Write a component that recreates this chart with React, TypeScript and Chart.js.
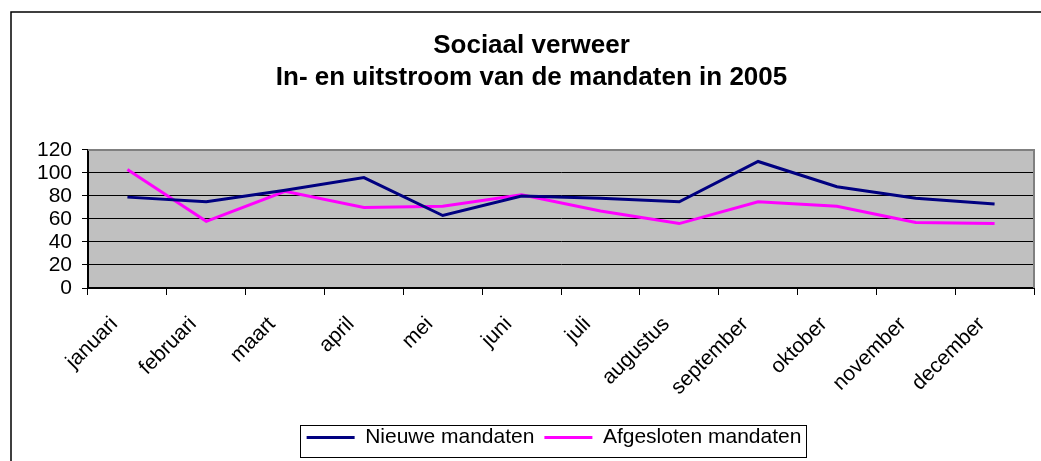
import React, { useEffect, useRef } from 'react';
import { Chart, registerables } from 'chart.js';

Chart.register(...registerables);

const months = [
  'januari', 'februari', 'maart', 'april', 'mei', 'juni',
  'juli', 'augustus', 'september', 'oktober', 'november', 'december',
];
const nieuweMandaten = [79, 75, 85, 96, 63, 80, 78, 75, 110, 88, 78, 73];
const afgeslotenMandaten = [103, 58, 84, 70, 71, 81, 67, 56, 75, 71, 57, 56];
const seriesLabels = ['Nieuwe mandaten', 'Afgesloten mandaten'];
const titleLines = ['Sociaal verweer', 'In- en uitstroom van de mandaten in 2005'];
const yMin = 0;
const yMax = 120;
const yStep = 20;

const FONT = "'Liberation Sans', Arial, sans-serif";

const framePlugin = {
  id: 'frame',
  afterLayout(chart: any) {
    const lg = chart.legend;
    if (lg) {
      lg.left -= 7;
      lg.right -= 7;
      lg.top -= 3;
      lg.bottom -= 3;
    }
  },
  beforeDraw(chart: any) {
    const { ctx, chartArea, width, height } = chart;
    ctx.save();
    ctx.fillStyle = '#ffffff';
    ctx.fillRect(0, 0, width, height);
    // outer chart border (left + top visible)
    ctx.strokeStyle = '#000000';
    ctx.lineWidth = 1.5;
    ctx.beginPath();
    ctx.moveTo(11, height + 2);
    ctx.lineTo(11, 12);
    ctx.lineTo(width + 2, 12);
    ctx.stroke();
    // plot background
    ctx.fillStyle = '#c0c0c0';
    ctx.fillRect(chartArea.left, chartArea.top, chartArea.right - chartArea.left, chartArea.bottom - chartArea.top);
    ctx.restore();
  },
  afterDraw(chart: any) {
    const { ctx, chartArea } = chart;
    ctx.save();
    // plot area border top & right (gray)
    ctx.strokeStyle = '#808080';
    ctx.lineWidth = 2;
    ctx.beginPath();
    ctx.moveTo(chartArea.left, chartArea.top);
    ctx.lineTo(chartArea.right, chartArea.top);
    ctx.lineTo(chartArea.right, chartArea.bottom);
    ctx.stroke();
    // legend border
    const boxes = chart.legend && chart.legend.legendHitBoxes;
    if (boxes && boxes.length) {
      let l = Infinity, r = -Infinity, t = Infinity, b = -Infinity;
      boxes.forEach((h: any) => {
        l = Math.min(l, h.left);
        r = Math.max(r, h.left + h.width);
        t = Math.min(t, h.top);
        b = Math.max(b, h.top + h.height);
      });
      ctx.strokeStyle = '#000000';
      ctx.lineWidth = 1;
      ctx.strokeRect(Math.round(l - 7) + 0.5, Math.round(t - 2) + 0.5, Math.round(r - l + 11), Math.round(b - t + 11));
    }
    ctx.restore();
  },
};

export default function App() {
  const canvasRef = useRef<HTMLCanvasElement | null>(null);

  useEffect(() => {
    document.body.style.margin = '0';
    document.body.style.overflow = 'hidden';
    const canvas = canvasRef.current;
    if (!canvas) return;
    const chart = new Chart(canvas, {
      type: 'line',
      data: {
        labels: months,
        datasets: [
          {
            label: seriesLabels[0],
            data: nieuweMandaten,
            borderColor: '#000080',
            backgroundColor: '#000080',
            borderWidth: 3,
            pointRadius: 0,
            tension: 0,
          },
          {
            label: seriesLabels[1],
            data: afgeslotenMandaten,
            borderColor: '#ff00ff',
            backgroundColor: '#ff00ff',
            borderWidth: 3,
            pointRadius: 0,
            tension: 0,
          },
        ],
      },
      options: {
        responsive: false,
        animation: false,
        devicePixelRatio: 1,
        layout: { padding: { left: 29, right: 7, top: 0, bottom: 0 } },
        plugins: {
          title: {
            display: true,
            text: titleLines,
            color: '#000000',
            font: { family: FONT, size: 26, weight: 'bold', lineHeight: 1.23 },
            padding: { top: 30, bottom: 56 },
          },
          legend: {
            display: true,
            position: 'bottom',
            fullSize: false,
            labels: {
              color: '#000000',
              font: { family: FONT, size: 21 },
              usePointStyle: true,
              pointStyle: 'line',
              pointStyleWidth: 48,
              padding: 10,
            },
          },
          tooltip: { enabled: false },
        },
        scales: {
          x: {
            type: 'category',
            offset: true,
            grid: {
              offset: true,
              drawOnChartArea: false,
              drawTicks: true,
              tickLength: 7,
              tickColor: '#000000',
              color: '#000000',
            },
            border: { display: true, color: '#000000', width: 2 },
            ticks: {
              color: '#000000',
              font: { family: FONT, size: 21 },
              minRotation: 45,
              maxRotation: 45,
              autoSkip: false,
              padding: 17,
              labelOffset: -13,
            },
            afterFit(scale: any) {
              scale.height = 132;
            },
          },
          y: {
            min: yMin,
            max: yMax,
            grid: {
              color: '#000000',
              lineWidth: 1,
              drawTicks: true,
              tickLength: 6,
              tickColor: '#000000',
            },
            border: { display: true, color: '#000000', width: 2 },
            ticks: {
              stepSize: yStep,
              autoSkip: false,
              color: '#000000',
              font: { family: FONT, size: 21 },
              padding: 10,
            },
            afterFit(scale: any) {
              scale.width = 59;
            },
          },
        },
      },
      plugins: [framePlugin],
    });
    return () => chart.destroy();
  }, []);

  return (
    <div style={{ width: 1041, height: 461 }}>
      <canvas ref={canvasRef} width={1041} height={461} style={{ display: 'block' }} />
    </div>
  );
}
